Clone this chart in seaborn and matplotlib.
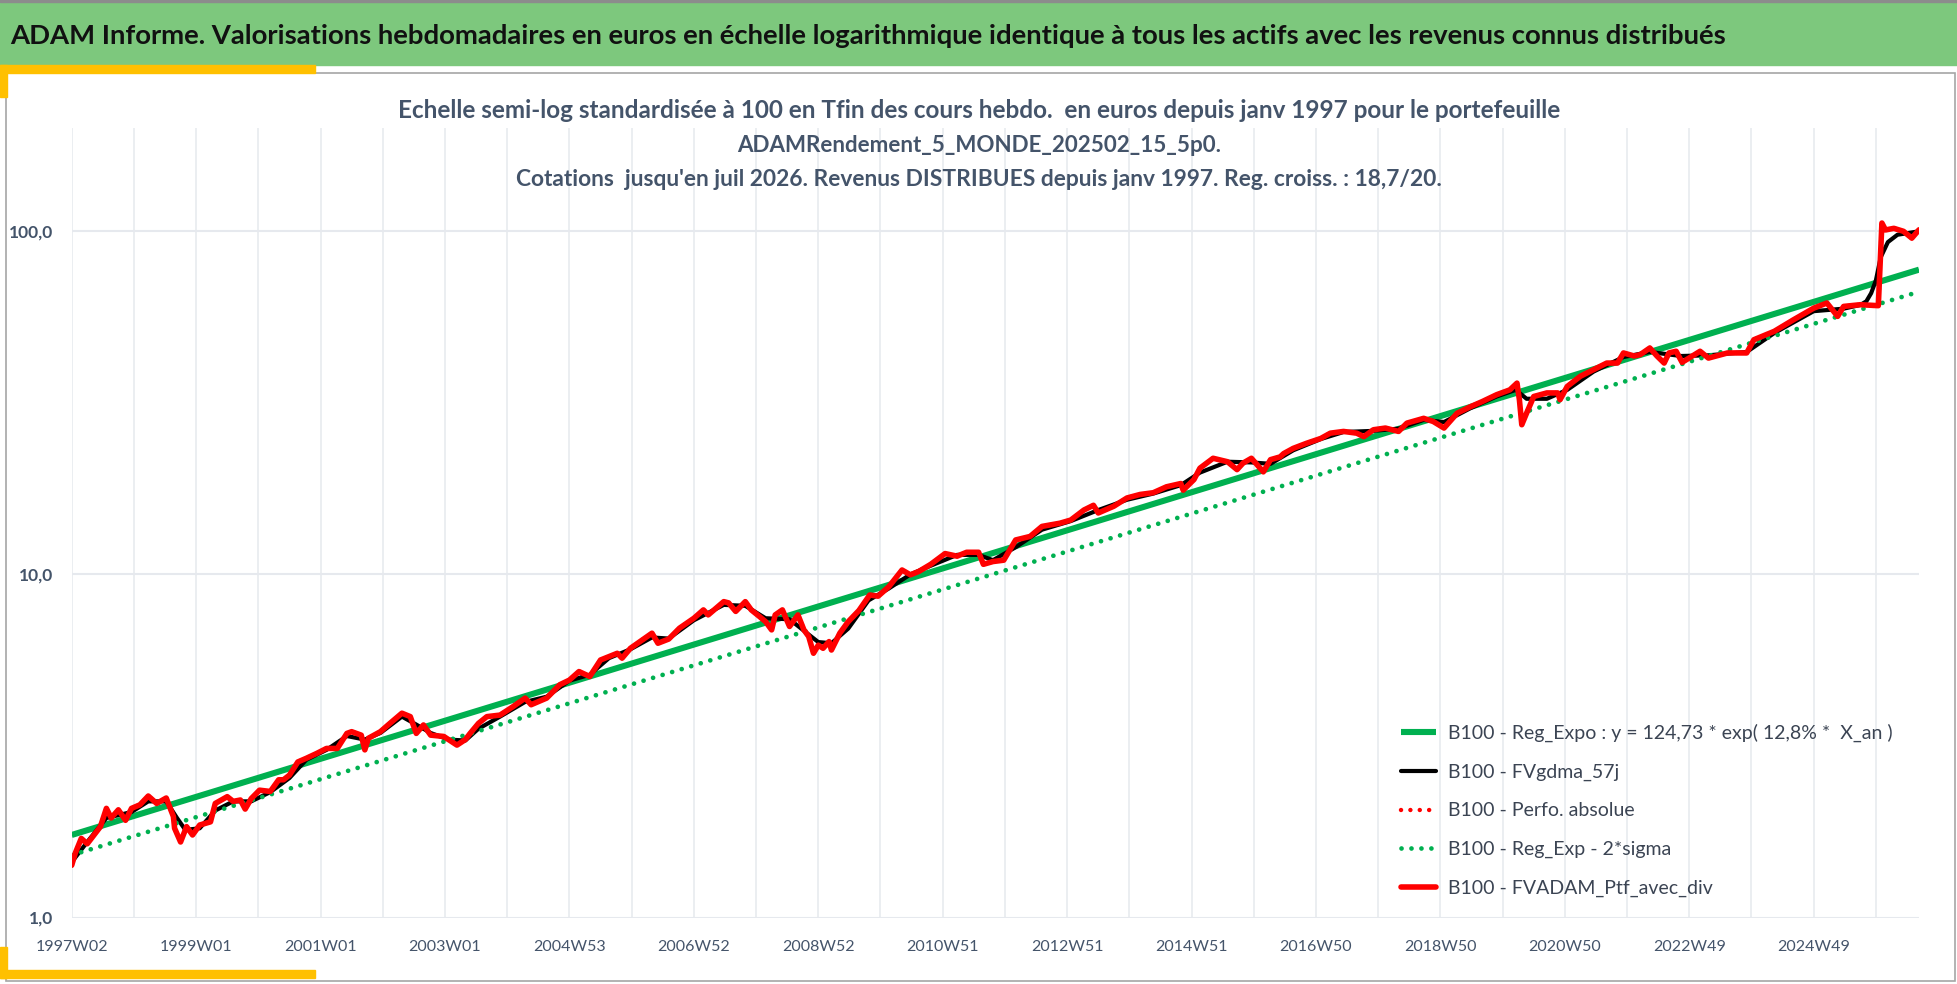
import matplotlib
matplotlib.use("Agg")
import matplotlib.pyplot as plt
from matplotlib.patches import Rectangle
from matplotlib.ticker import NullLocator
import seaborn as sns

# Valeurs (semaines depuis 1997W02, base 100)
tick_labels = ["1997W02", "1999W01", "2001W01", "2003W01", "2004W53", "2006W52",
               "2008W52", "2010W51", "2012W51", "2014W51", "2016W50", "2018W50",
               "2020W50", "2022W49", "2024W49"]

ptf_weeks = [0, 3, 8, 13, 24, 29, 33, 39, 45, 50,
             57, 64, 71, 79, 85, 86, 91, 96, 101, 107,
             116, 120, 130, 135, 141, 145, 150, 157, 166, 173,
             177, 182, 189, 196, 205, 213, 222, 230, 234, 242,
             245, 248, 258, 266, 276, 283, 288, 294, 300, 311,
             322, 329, 333, 340, 347, 358, 369, 379, 384, 397,
             408, 416, 424, 433, 442, 449, 456, 460, 467, 477,
             485, 490, 499, 508, 520, 528, 532, 545, 549, 555,
             563, 568, 575, 580, 585, 588, 594, 600, 607, 612,
             616, 620, 624, 628, 633, 635, 642, 649, 658, 667,
             674, 683, 694, 701, 708, 718, 730, 740, 748, 758,
             762, 770, 779, 789, 801, 811, 826, 835, 846, 854,
             858, 871, 882, 893, 904, 915, 927, 929, 938, 943,
             954, 966, 974, 979, 986, 996, 1002, 1010, 1013, 1021,
             1032, 1044, 1052, 1063, 1074, 1080, 1088, 1098, 1109, 1116,
             1130, 1138, 1147, 1158, 1169, 1179, 1191, 1202, 1208, 1210,
             1212, 1216, 1222, 1233, 1242, 1244, 1250, 1261, 1272, 1283,
             1292, 1297, 1306, 1311, 1319, 1325, 1331, 1335, 1341, 1346,
             1361, 1368, 1384, 1400, 1406, 1423, 1439, 1456, 1467, 1476,
             1481, 1495, 1510, 1513, 1516, 1523, 1531, 1538, 1544]
ptf_vals = [1.42, 1.54, 1.70, 1.64, 1.84, 2.08, 1.95, 2.06, 1.92, 2.08,
            2.13, 2.26, 2.15, 2.23, 1.97, 1.82, 1.66, 1.84, 1.74, 1.86,
            1.90, 2.15, 2.25, 2.18, 2.20, 2.07, 2.22, 2.35, 2.33, 2.52,
            2.52, 2.60, 2.84, 2.91, 3.01, 3.11, 3.11, 3.44, 3.48, 3.40,
            3.08, 3.33, 3.48, 3.68, 3.94, 3.85, 3.44, 3.64, 3.40, 3.37,
            3.18, 3.30, 3.44, 3.68, 3.85, 3.89, 4.12, 4.36, 4.17, 4.36,
            4.77, 4.92, 5.21, 5.04, 5.63, 5.76, 5.89, 5.70, 6.09, 6.44,
            6.74, 6.30, 6.48, 6.97, 7.45, 7.88, 7.62, 8.33, 8.26, 7.80,
            8.33, 7.88, 7.53, 7.28, 6.89, 7.62, 7.88, 7.05, 7.62, 6.89,
            6.59, 5.89, 6.22, 6.09, 6.37, 6.02, 6.74, 7.28, 7.85, 8.71,
            8.64, 9.21, 10.3, 9.97, 10.2, 10.7, 11.5, 11.3, 11.6, 11.6,
            10.7, 10.9, 11.0, 12.6, 12.9, 13.8, 14.1, 14.4, 15.4, 15.9,
            15.1, 15.8, 16.7, 17.1, 17.3, 18.0, 18.4, 17.6, 18.9, 20.4,
            21.8, 21.3, 20.2, 21.1, 21.8, 19.9, 21.6, 22.0, 22.5, 23.3,
            24.1, 24.9, 25.8, 26.1, 25.8, 25.2, 26.4, 26.7, 26.1, 27.6,
            28.5, 27.9, 26.7, 29.5, 30.8, 31.9, 33.4, 34.5, 36.1, 32.3,
            27.3, 29.5, 33.0, 33.8, 33.8, 32.3, 35.3, 37.8, 39.5, 41.3,
            41.3, 44.2, 43.3, 43.7, 45.7, 43.3, 41.3, 44.2, 44.7, 41.5,
            44.7, 42.7, 44.2, 44.2, 48.3, 51.1, 55.2, 59.7, 61.8, 56.5,
            60.4, 61.1, 60.7, 105.7, 100.9, 102.0, 100.0, 95.5, 101.0]

gdma_weeks = [0, 13, 29, 50, 64, 79, 88, 95, 107, 120,
              135, 150, 166, 182, 196, 213, 230, 245, 258, 276,
              288, 300, 315, 329, 340, 358, 379, 397, 416, 433,
              449, 467, 485, 499, 520, 545, 563, 580, 600, 612,
              624, 635, 649, 666, 683, 701, 718, 740, 758, 770,
              789, 811, 835, 858, 882, 904, 927, 943, 966, 986,
              1002, 1021, 1044, 1063, 1088, 1109, 1130, 1147, 1169, 1191,
              1207, 1216, 1233, 1250, 1272, 1297, 1319, 1345, 1368, 1400,
              1423, 1456, 1481, 1495, 1500, 1504, 1508, 1512, 1518, 1526, 1544]
gdma_vals = [1.45, 1.66, 1.95, 2.03, 2.18, 2.18, 1.95, 1.80, 1.82, 2.05,
             2.18, 2.18, 2.32, 2.55, 2.88, 3.08, 3.38, 3.30, 3.45, 3.85,
             3.65, 3.45, 3.30, 3.28, 3.55, 3.85, 4.25, 4.40, 4.90, 5.10,
             5.70, 6.05, 6.55, 6.50, 7.35, 8.15, 8.10, 7.45, 7.40, 6.85,
             6.35, 6.30, 6.95, 8.40, 9.10, 10.0, 10.6, 11.4, 11.4, 11.0,
             12.0, 13.5, 14.3, 15.4, 16.5, 17.2, 18.2, 19.8, 21.3, 21.2,
             21.0, 23.0, 24.8, 26.0, 26.2, 26.6, 28.2, 27.8, 30.5, 33.0,
             34.5, 32.5, 32.5, 34.5, 39.0, 43.0, 44.5, 43.3, 43.5, 44.5,
             50.5, 58.5, 59.5, 61.0, 62.5, 66.0, 72.0, 84.0, 93.0, 97.7, 100.0]

reg_weeks = [0, 1544]
reg_vals = [1.74, 77.3]
sigma_weeks = [0, 1540]
sigma_vals = [1.52, 66.0]

labels = ["B100 - Reg_Expo : y = 124,73 * exp( 12,8% *  X_an )",
          "B100 - FVgdma_57j",
          "B100 - Perfo. absolue",
          "B100 - Reg_Exp - 2*sigma",
          "B100 - FVADAM_Ptf_avec_div"]

title = ("ADAM Informe. Valorisations hebdomadaires en euros en échelle logarithmique "
         "identique à tous les actifs avec les revenus connus distribués")
subtitle = ["Echelle semi-log standardisée à 100 en Tfin des cours hebdo.  en euros depuis janv 1997 pour le portefeuille",
            "ADAMRendement_5_MONDE_202502_15_5p0.",
            "Cotations  jusqu'en juil 2026. Revenus DISTRIBUES depuis janv 1997. Reg. croiss. : 18,7/20."]

sns.set_style("white")
plt.rcParams['font.family'] = ['Lato', 'DejaVu Sans']

W, H = 1958, 984
SLATE = '#44546A'
GRID = '#E6E9EE'
GREEN = '#00B050'
RED = '#FF0000'


def fx(px):
    return px / W


def fy(py):
    return 1 - py / H


def fit_width(txt, target):
    # ajuste la taille de police pour retrouver la largeur du texte d'origine
    r = fig.canvas.get_renderer()
    w = txt.get_window_extent(renderer=r).width
    txt.set_fontsize(txt.get_fontsize() * target / w)


fig = plt.figure(figsize=(W / 100, H / 100), dpi=100)

# bandeau, cadre et accents jaunes
fig.add_artist(Rectangle((0, fy(65)), 1, 65 / H, transform=fig.transFigure,
                         color='#7DC87D', zorder=0))
fig.add_artist(Rectangle((0, fy(2)), 1, 2 / H, transform=fig.transFigure,
                         color='#8C8C8C', zorder=1))
fig.add_artist(Rectangle((fx(6), fy(981)), fx(1955) - fx(6), (981 - 73) / H,
                         transform=fig.transFigure, fill=False,
                         edgecolor='#A6A6A6', lw=1.2, zorder=1))
for (x0, y0, w, h) in [(0, 73, 315, 8), (0, 97, 7, 32), (0, 978, 315, 8), (0, 978, 7, 31)]:
    fig.add_artist(Rectangle((fx(x0), fy(y0)), w / W, h / H, transform=fig.transFigure,
                             color='#FFC000', zorder=2))

t = fig.text(fx(10), fy(36), title, ha='left', va='center', fontsize=20,
             fontweight='bold', color='#111111')
fit_width(t, 1719)
for line, yc, wt in zip(subtitle, [110, 145, 179], [1164, 485, 930]):
    s = fig.text(0.5, fy(yc), line, ha='center', va='center', fontsize=15,
                 fontweight='bold', color=SLATE)
    fit_width(s, wt)

ax = fig.add_axes([fx(71.7), fy(917.5), fx(1919) - fx(71.7), (917.5 - 128) / H])
ax.set_axisbelow(True)

sns.lineplot(x=reg_weeks, y=reg_vals, ax=ax, color=GREEN, linewidth=4.4,
             label=labels[0], solid_capstyle='butt')
sns.lineplot(x=gdma_weeks, y=gdma_vals, ax=ax, color='black', linewidth=3.0,
             label=labels[1])
sns.lineplot(x=ptf_weeks, y=ptf_vals, ax=ax, color=RED, linewidth=3.2,
             linestyle=(0, (0.01, 2.1)), dash_capstyle='round', label=labels[2])
sns.lineplot(x=sigma_weeks, y=sigma_vals, ax=ax, color=GREEN, linewidth=3.4,
             linestyle=(0, (0.01, 2.1)), dash_capstyle='round', label=labels[3])
sns.lineplot(x=ptf_weeks, y=ptf_vals, ax=ax, color=RED, linewidth=4.0,
             label=labels[4])

ax.set_yscale('log')
ax.set_ylim(1, 200)
ax.set_xlim(0, 1544)
ax.set_xlabel('')
ax.set_ylabel('')

ax.set_xticks(range(0, 1545, 104))
ax.set_xticklabels(tick_labels)
ax.set_xticks(range(52, 1545, 104), minor=True)
ax.set_yticks([1, 10, 100])
ax.set_yticklabels(["1,0", "10,0", "100,0"])
ax.yaxis.set_minor_locator(NullLocator())

ax.grid(True, which='both', axis='x', color=GRID, lw=1.1)
ax.grid(True, which='major', axis='y', color=GRID, lw=1.5)
ax.tick_params(axis='x', which='both', length=5, width=1.1, color=GRID,
               pad=11, labelsize=11.5, labelcolor=SLATE)
ax.tick_params(axis='y', which='both', length=0, pad=13.5, labelsize=12.5,
               labelcolor=SLATE)
for lab in ax.get_yticklabels():
    lab.set_fontweight('bold')
for sp in ax.spines.values():
    sp.set_visible(False)

leg = ax.legend(loc='upper left', bbox_to_anchor=(fx(1401), fy(724)),
                bbox_transform=fig.transFigure, frameon=False, fontsize=14,
                handlelength=1.8, handletextpad=0.6, labelspacing=1.1,
                borderpad=0, borderaxespad=0)
for txt in leg.get_texts():
    txt.set_color('#3B4453')

fig.savefig("out.png", dpi=100)
